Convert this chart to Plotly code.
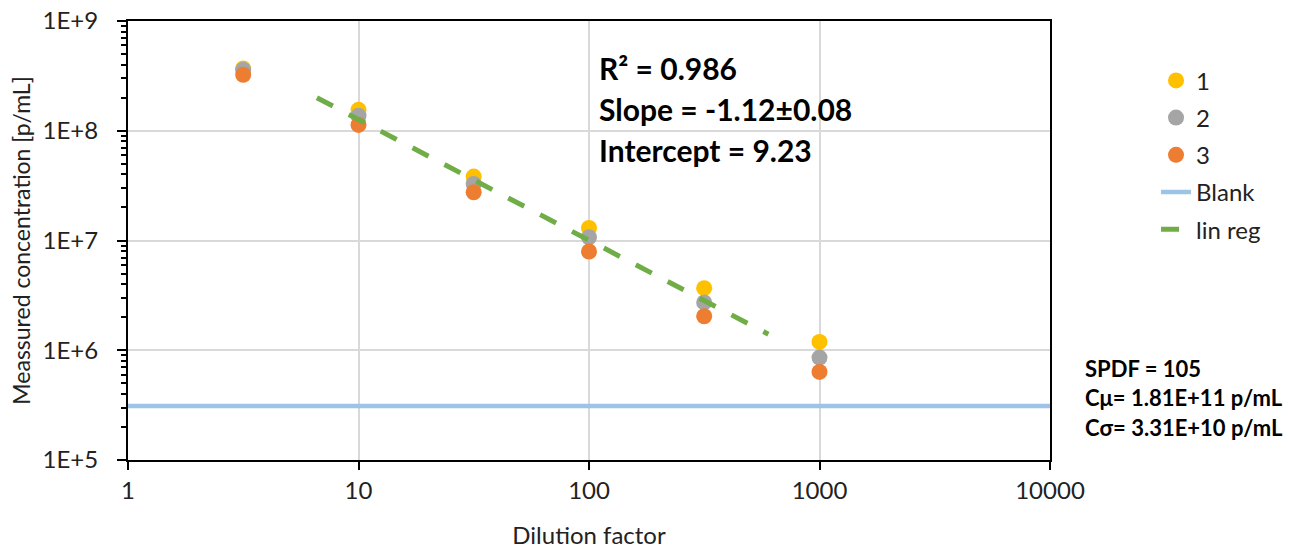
import plotly.graph_objects as go

dilution = [3.16, 10, 31.6, 100, 316, 1000]
series1 = [3.7e8, 1.55e8, 3.82e7, 1.30e7, 3.68e6, 1.19e6]
series2 = [3.59e8, 1.37e8, 3.28e7, 1.07e7, 2.73e6, 8.57e5]
series3 = [3.23e8, 1.13e8, 2.75e7, 7.94e6, 2.04e6, 6.35e5]
blank_x = [1, 10000]
blank_y = [3.1e5, 3.1e5]
linreg_x = [6.6, 600]
linreg_y = [2.0e8, 1.4e6]

FONT = "Lato, Carlito, Calibri, sans-serif"
minor_y = [m * 10 ** e for e in range(5, 9) for m in range(2, 10)]

fig = go.Figure()
for name, ys, col in [("1", series1, "#FFC000"), ("2", series2, "#A5A5A5"), ("3", series3, "#ED7D31")]:
    fig.add_trace(go.Scatter(x=dilution, y=ys, mode="markers", name=name, legendgroup=name,
                             marker=dict(size=16, color=col)))
fig.add_trace(go.Scatter(x=blank_x, y=blank_y, mode="lines", name="Blank", legendgroup="Blank",
                         line=dict(color="#9DC3E6", width=4.5)))
fig.add_trace(go.Scatter(x=linreg_x, y=linreg_y, mode="lines", name="lin reg", legendgroup="lin reg",
                         line=dict(color="#70AD47", width=5, dash="18px,18px")))
# empty helper trace so the minor-tick overlay axis gets drawn
fig.add_trace(go.Scatter(x=[], y=[], yaxis="y2", showlegend=False, hoverinfo="skip"))

fig.update_layout(
    width=1293, height=549,
    margin=dict(l=128, r=243, t=21, b=89, autoexpand=False),
    plot_bgcolor="white", paper_bgcolor="white",
    font=dict(family=FONT, size=23, color="#222"),
    legend=dict(x=1.115, y=0.915, xanchor="left", yanchor="top",
                traceorder="grouped", tracegroupgap=3,
                font=dict(size=24, color="#222"), bgcolor="rgba(0,0,0,0)"),
    xaxis=dict(type="log", range=[0, 4], showline=True, linecolor="black", linewidth=2,
               mirror=True, ticks="outside", ticklen=8, tickwidth=2, tickcolor="black",
               tickvals=[1, 10, 100, 1000, 10000], ticktext=["1", "10", "100", "1000", "10000"],
               showgrid=True, gridcolor="#D9D9D9", gridwidth=2, zeroline=False, automargin=False,
               title=dict(text="Dilution factor", font=dict(size=24), standoff=24),
               tickfont=dict(size=24)),
    yaxis=dict(type="log", range=[5, 9], showline=True, linecolor="black", linewidth=2,
               mirror=True, ticks="outside", ticklen=9, tickwidth=2, tickcolor="black",
               tickvals=[1e5, 1e6, 1e7, 1e8, 1e9],
               ticktext=["1E+5", "1E+6", "1E+7", "1E+8", "1E+9"],
               ticklabelstandoff=14, automargin=False,
               showgrid=True, gridcolor="#D9D9D9", gridwidth=2, zeroline=False,
               title=dict(text="Meassured concentration [p/mL]", font=dict(size=23), standoff=6),
               tickfont=dict(size=24)),
    yaxis2=dict(type="log", range=[5, 9], overlaying="y", side="left", anchor="x",
                tickvals=minor_y, showticklabels=False, ticks="outside", ticklen=6,
                tickwidth=1.5, tickcolor="black", showgrid=False, zeroline=False,
                showline=False, automargin=False),
)

for i, txt in enumerate(["R² = 0.986", "Slope = -1.12±0.08", "Intercept = 9.23"]):
    fig.add_annotation(xref="paper", yref="paper", x=(597 - 128) / 922, y=1 - (68 + 41 * i - 21) / 439,
                       xanchor="left", yanchor="middle", showarrow=False,
                       text="<b>" + txt + "</b>", font=dict(size=30, color="black", family=FONT))
for i, txt in enumerate(["SPDF = 105", "Cμ= 1.81E+11 p/mL", "Cσ= 3.31E+10 p/mL"]):
    fig.add_annotation(xref="paper", yref="paper", x=(1083 - 128) / 922, y=1 - (368 + 29.5 * i - 21) / 439,
                       xanchor="left", yanchor="middle", showarrow=False,
                       text="<b>" + txt + "</b>", font=dict(size=22, color="black", family=FONT))

fig.write_html("out.html")
